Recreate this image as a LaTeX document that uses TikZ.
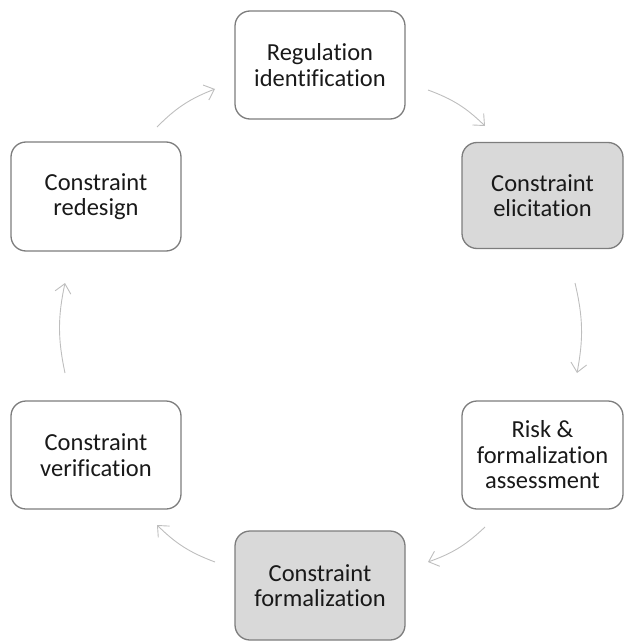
\documentclass[tikz,border=0pt]{standalone}
\usepackage{fontspec}
\setmainfont{Carlito}[Ligatures=NoCommon]
\usetikzlibrary{arrows.meta}
\definecolor{boxline}{RGB}{125,125,125}
\definecolor{boxfill}{RGB}{217,217,217}
\definecolor{arrgray}{RGB}{190,190,190}
\tikzset{
  stagebox/.style={draw=boxline, line width=1.3pt, rounded corners=15pt, align=center,
    inner sep=0pt, font=\fontsize{24.5}{25.5}\selectfont, text=black!90},
  graybox/.style={stagebox, fill=boxfill},
  flowarrow/.style={draw=arrgray, line width=0.9pt, -{Straight Barb[length=9pt,width=16pt,line width=0.9pt]}},
}
\begin{document}
\begin{tikzpicture}[x=1pt,y=-1pt]
\useasboundingbox (0,0) rectangle (625,642);
\node[stagebox, minimum width=170pt, minimum height=108pt] (reg) at (320,65) {Regulation\\identification};
\node[graybox, minimum width=161pt, minimum height=106pt] (eli) at (542.5,195.5) {Constraint\\elicitation};
\node[stagebox, minimum width=161pt, minimum height=108pt] (risk) at (542.5,455) {Risk \&\\formalization\\assessment};
\node[graybox, minimum width=170pt, minimum height=109pt] (form) at (320,585.5) {Constraint\\formalization};
\node[stagebox, minimum width=170pt, minimum height=108pt] (ver) at (96,455) {Constraint\\verification};
\node[stagebox, minimum width=170pt, minimum height=109pt] (red) at (96,196.5) {Constraint\\redesign};
% arrow end points
\coordinate (a1s) at (157,127); \coordinate (a1e) at (215,89);
\coordinate (a2s) at (428,90);  \coordinate (a2e) at (485,126);
\coordinate (a3s) at (575,283); \coordinate (a3e) at (577,373);
\coordinate (a4s) at (485,527); \coordinate (a4e) at (428,562);
\coordinate (a5s) at (215,562); \coordinate (a5e) at (157,525);
\coordinate (a6s) at (65,373);  \coordinate (a6e) at (65,283);
\draw[flowarrow] (a1s) to[bend left=12] (a1e);
\draw[flowarrow] (a2s) to[bend left=12] (a2e);
\draw[flowarrow] (a3s) to[bend left=12] (a3e);
\draw[flowarrow] (a4s) to[bend left=12] (a4e);
\draw[flowarrow] (a5s) to[bend left=12] (a5e);
\draw[flowarrow] (a6s) to[bend left=12] (a6e);
\end{tikzpicture}
\end{document}
